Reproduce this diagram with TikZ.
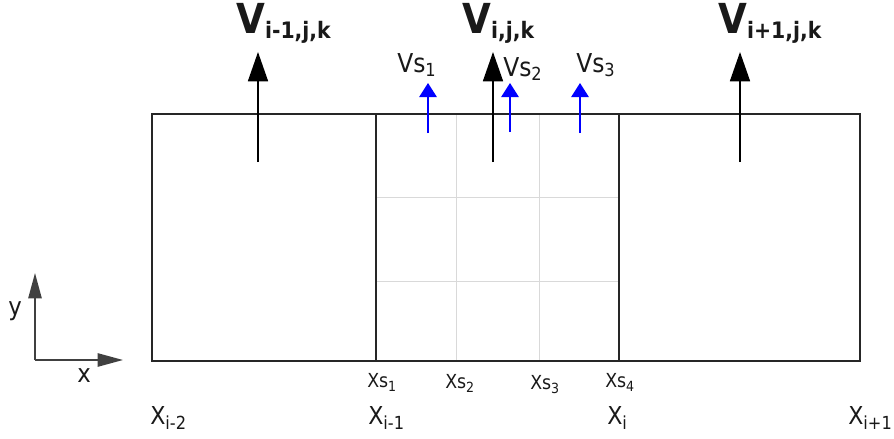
\documentclass[tikz,border=0pt]{standalone}
\usepackage{fontspec}
\setmainfont{DejaVu Sans Condensed}
\usetikzlibrary{arrows.meta}
\tikzset{
  frame/.style={line width=1.5pt, draw=black!85},
  gridline/.style={line width=0.75pt, draw=black!15},
  bigarrow/.style={line width=1.3pt, black, -{Triangle[length=22pt,width=15pt]}},
  subarrow/.style={line width=1.3pt, blue, -{Triangle[length=10.5pt,width=13pt]}},
  axisarrow/.style={line width=1.1pt, black!75, -{Triangle[length=19pt,width=10pt]}},
  lbl/.style={anchor=base west, inner sep=0pt, text=black!90},
}
\newcommand{\bigV}[1]{{\fontsize{31}{31}\selectfont\bfseries V\raisebox{-4pt}{\fontsize{17}{17}\selectfont #1}}}
\newcommand{\smallVs}[1]{{\fontsize{19.5}{19.5}\selectfont Vs\raisebox{-3.5pt}{\fontsize{13.5}{13.5}\selectfont #1}}}
\newcommand{\xsl}[1]{{\fontsize{14.5}{14.5}\selectfont Xs\raisebox{-3pt}{\fontsize{10.5}{10.5}\selectfont #1}}}
\newcommand{\bxl}[1]{{\fontsize{18.5}{18.5}\selectfont X\raisebox{-4pt}{\fontsize{13.5}{13.5}\selectfont #1}}}
\begin{document}
\begin{tikzpicture}[x=0.75pt,y=-0.75pt]
\useasboundingbox (0,0) rectangle (894,439);
% grid in middle cell
\draw[gridline] (456,114) -- (456,361);
\draw[gridline] (539,114) -- (539,361);
\draw[gridline] (376,197) -- (619,197);
\draw[gridline] (376,281) -- (619,281);
% frame
\draw[frame] (152,114) rectangle (860,361);
\draw[frame] (376,114) -- (376,361);
\draw[frame] (619,114) -- (619,361);
% arrow coordinates
\coordinate (a1s) at (258,162); \coordinate (a1e) at (258,52);
\coordinate (a2s) at (493,162); \coordinate (a2e) at (493,52);
\coordinate (a3s) at (740,162); \coordinate (a3e) at (740,52);
\coordinate (b1s) at (428,133); \coordinate (b1e) at (428,83);
\coordinate (b2s) at (510,132); \coordinate (b2e) at (510,83);
\coordinate (b3s) at (580,133); \coordinate (b3e) at (580,83);
\draw[bigarrow] (a1s) -- (a1e);
\draw[bigarrow] (a2s) -- (a2e);
\draw[bigarrow] (a3s) -- (a3e);
\draw[subarrow] (b1s) -- (b1e);
\draw[subarrow] (b2s) -- (b2e);
\draw[subarrow] (b3s) -- (b3e);
% labels
\node[lbl] (v1) at (236,33) {\bigV{i-1,j,k}};
\node[lbl] (v2) at (462,33) {\bigV{i,j,k}};
\node[lbl] (v3) at (718,33) {\bigV{i+1,j,k}};
\node[lbl] (s1) at (397,72) {\smallVs{1}};
\node[lbl] (s2) at (503,76) {\smallVs{2}};
\node[lbl] (s3) at (576,72) {\smallVs{3}};
\node[lbl] (x1) at (367,387) {\xsl{1}};
\node[lbl] (x2) at (445,388) {\xsl{2}};
\node[lbl] (x3) at (530,389) {\xsl{3}};
\node[lbl] (x4) at (605,387) {\xsl{4}};
\node[lbl] (X1) at (150,424) {\bxl{i-2}};
\node[lbl] (X2) at (368,424) {\bxl{i-1}};
\node[lbl] (X3) at (607,424) {\bxl{i}};
\node[lbl] (X4) at (848,424) {\bxl{i+1}};
% axes
\coordinate (o) at (35,360);
\coordinate (ya) at (35,273);
\coordinate (xa) at (123,360);
\draw[axisarrow] (o) -- (ya);
\draw[axisarrow] (o) -- (xa);
\node[lbl] (ylab) at (8,315) {\fontsize{19}{19}\selectfont y};
\node[lbl] (xlab) at (77,382) {\fontsize{19}{19}\selectfont x};
\end{tikzpicture}
\end{document}
